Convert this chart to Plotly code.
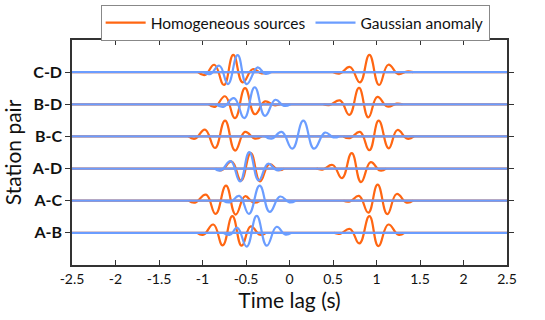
import plotly.graph_objects as go

# Station pairs (bottom to top) and their baseline offsets
pairs = ["A-B", "A-C", "A-D", "B-C", "B-D", "C-D"]
offsets = [1, 2, 3, 4, 5, 6]

# x axis
time_range = [-2.5, 2.5]
xtick_vals = [-2.5, -2, -1.5, -1, -0.5, 0, 0.5, 1, 1.5, 2, 2.5]
xtick_text = ["-2.5", "-2", "-1.5", "-1", "-0.5", "0", "0.5", "1", "1.5", "2", "2.5"]

# Homogeneous sources (orange): wave packets, time lag (s) and amplitude
ab_hom_neg_t = [-1.06, -0.990, -0.875, -0.768, -0.657, -0.550, -0.446, -0.339, -0.27]
ab_hom_neg_a = [0, -0.06, 0.26, -0.39, 0.52, -0.40, 0.20, -0.06, 0]
ab_hom_pos_t = [0.51, 0.580, 0.695, 0.803, 0.918, 1.021, 1.136, 1.251, 1.32]
ab_hom_pos_a = [0, -0.03, 0.12, -0.33, 0.52, -0.41, 0.26, -0.06, 0]
ac_hom_neg_t = [-1.16, -1.086, -0.960, -0.849, -0.730, -0.619, -0.511, -0.416, -0.34]
ac_hom_neg_a = [0, -0.06, 0.19, -0.41, 0.47, -0.43, 0.14, -0.06, 0]
ac_hom_pos_t = [0.62, 0.695, 0.799, 0.906, 1.013, 1.124, 1.232, 1.347, 1.42]
ac_hom_pos_a = [0, -0.02, 0.15, -0.37, 0.50, -0.42, 0.21, -0.06, 0]
ad_hom_neg_t = [-0.85, -0.780, -0.665, -0.557, -0.446, -0.339, -0.232, -0.128, -0.06]
ad_hom_neg_a = [0, -0.05, 0.22, -0.37, 0.48, -0.40, 0.14, -0.05, 0]
ad_hom_pos_t = [0.31, 0.381, 0.496, 0.603, 0.715, 0.822, 0.933, 1.040, 1.11]
ad_hom_pos_a = [0, -0.03, 0.11, -0.30, 0.48, -0.42, 0.20, -0.06, 0]
bc_hom_neg_t = [-1.16, -1.086, -0.971, -0.856, -0.741, -0.626, -0.511, -0.397, -0.32]
bc_hom_neg_a = [0, -0.07, 0.21, -0.36, 0.49, -0.44, 0.14, -0.07, 0]
bc_hom_pos_t = [0.62, 0.695, 0.810, 0.918, 1.025, 1.140, 1.240, 1.354, 1.43]
bc_hom_pos_a = [0, -0.05, 0.14, -0.43, 0.49, -0.37, 0.20, -0.07, 0]
bd_hom_neg_t = [-0.93, -0.856, -0.741, -0.626, -0.511, -0.397, -0.282, -0.178, -0.11]
bd_hom_neg_a = [0, -0.08, 0.25, -0.43, 0.50, -0.31, 0.09, -0.03, 0]
bd_hom_pos_t = [0.39, 0.465, 0.580, 0.688, 0.799, 0.906, 1.010, 1.124, 1.232, 1.30]
bd_hom_pos_a = [0, -0.02, 0.12, -0.33, 0.51, -0.41, 0.23, -0.07, 0.02, 0]
cd_hom_neg_t = [-1.05, -0.971, -0.864, -0.753, -0.646, -0.538, -0.423, -0.320, -0.25]
cd_hom_neg_a = [0, -0.09, 0.23, -0.40, 0.54, -0.32, 0.09, -0.04, 0]
cd_hom_pos_t = [0.50, 0.580, 0.695, 0.810, 0.918, 1.029, 1.136, 1.251, 1.347, 1.42]
cd_hom_pos_a = [0, -0.04, 0.16, -0.32, 0.54, -0.40, 0.23, -0.06, 0.02, 0]

# Gaussian anomaly (blue): one wave packet per station pair
ab_gau_t = [-0.76, -0.684, -0.600, -0.492, -0.377, -0.262, -0.148, -0.052, 0.02]
ab_gau_a = [0, -0.06, 0.16, -0.43, 0.53, -0.40, 0.19, -0.05, 0]
ac_gau_t = [-0.76, -0.684, -0.577, -0.466, -0.343, -0.228, -0.109, -0.002, 0.07]
ac_gau_a = [0, -0.05, 0.15, -0.41, 0.47, -0.35, 0.13, -0.05, 0]
ad_gau_t = [-0.86, -0.791, -0.676, -0.569, -0.462, -0.354, -0.247, -0.148, -0.08]
ad_gau_a = [0, -0.06, 0.23, -0.40, 0.51, -0.37, 0.15, -0.05, 0]
bc_gau_t = [-0.28, -0.205, -0.090, 0.033, 0.159, 0.282, 0.408, 0.504, 0.57]
bc_gau_a = [0, -0.07, 0.14, -0.38, 0.49, -0.38, 0.12, -0.03, 0]
bd_gau_t = [-0.84, -0.761, -0.638, -0.519, -0.400, -0.282, -0.163, -0.063, 0.01]
bd_gau_a = [0, -0.08, 0.19, -0.43, 0.53, -0.36, 0.14, -0.05, 0]
cd_gau_t = [-0.99, -0.914, -0.806, -0.707, -0.596, -0.492, -0.366, -0.282, -0.21]
cd_gau_a = [0, -0.06, 0.20, -0.37, 0.53, -0.37, 0.15, -0.05, 0]

hom_packets = [
    (1, ab_hom_neg_t, ab_hom_neg_a), (1, ab_hom_pos_t, ab_hom_pos_a),
    (2, ac_hom_neg_t, ac_hom_neg_a), (2, ac_hom_pos_t, ac_hom_pos_a),
    (3, ad_hom_neg_t, ad_hom_neg_a), (3, ad_hom_pos_t, ad_hom_pos_a),
    (4, bc_hom_neg_t, bc_hom_neg_a), (4, bc_hom_pos_t, bc_hom_pos_a),
    (5, bd_hom_neg_t, bd_hom_neg_a), (5, bd_hom_pos_t, bd_hom_pos_a),
    (6, cd_hom_neg_t, cd_hom_neg_a), (6, cd_hom_pos_t, cd_hom_pos_a),
]
gau_packets = [
    (1, ab_gau_t, ab_gau_a), (2, ac_gau_t, ac_gau_a), (3, ad_gau_t, ad_gau_a),
    (4, bc_gau_t, bc_gau_a), (5, bd_gau_t, bd_gau_a), (6, cd_gau_t, cd_gau_a),
]

ORANGE = "#FF6612"
BLUE = "#6B9DFF"
FONT = "Lato"
W = 2.2

fig = go.Figure()
# orange baselines (hidden under blue) and packets
for i, off in enumerate(offsets):
    fig.add_trace(go.Scatter(x=time_range, y=[off, off], mode="lines",
                             line=dict(color=ORANGE, width=W),
                             name="Homogeneous sources", legendgroup="hom",
                             showlegend=(i == 0), hoverinfo="skip"))
for off, t, a in hom_packets:
    fig.add_trace(go.Scatter(x=t, y=[off + v for v in a], mode="lines",
                             line=dict(color=ORANGE, width=W, shape="spline", smoothing=1.3),
                             legendgroup="hom", showlegend=False))
# blue baselines and packets
for i, off in enumerate(offsets):
    fig.add_trace(go.Scatter(x=time_range, y=[off, off], mode="lines",
                             line=dict(color=BLUE, width=W),
                             name="Gaussian anomaly", legendgroup="gau",
                             showlegend=(i == 0), hoverinfo="skip"))
for off, t, a in gau_packets:
    fig.add_trace(go.Scatter(x=t, y=[off + v for v in a], mode="lines",
                             line=dict(color=BLUE, width=W, shape="spline", smoothing=1.3),
                             legendgroup="gau", showlegend=False))

fig.update_layout(
    width=545, height=320,
    margin=dict(l=72, r=38, t=40, b=55, autoexpand=False),
    paper_bgcolor="white", plot_bgcolor="white",
    font=dict(family=FONT, color="#111111"),
    showlegend=True,
    legend=dict(orientation="h", x=0.513, xanchor="center", y=1.155, yanchor="top",
                bordercolor="#888888", borderwidth=1, bgcolor="white",
                font=dict(size=15.5, family=FONT, color="#111111"),
                itemwidth=40, tracegroupgap=0),
    xaxis=dict(range=time_range, tickvals=xtick_vals, ticktext=xtick_text,
               showgrid=False, zeroline=False,
               showline=True, linecolor="#333333", linewidth=1.5, mirror="ticks",
               ticks="inside", ticklen=5, tickcolor="#333333", tickwidth=1.2,
               tickfont=dict(size=14, family=FONT, color="#111111"),
               title=dict(text="Time lag (s)", font=dict(size=21, family=FONT, color="#111111"), standoff=4)),
    yaxis=dict(range=[0, 7], tickvals=offsets, ticktext=["<b>%s</b>" % p for p in pairs],
               showgrid=False, zeroline=False,
               showline=True, linecolor="#333333", linewidth=1.5, mirror="ticks",
               ticks="outside", ticklen=5, tickcolor="#333333", tickwidth=1.2,
               tickfont=dict(size=16, family=FONT, color="#111111"),
               title=dict(text="Station pair", font=dict(size=21, family=FONT, color="#111111"), standoff=4)),
)

fig.write_html("out.html")
